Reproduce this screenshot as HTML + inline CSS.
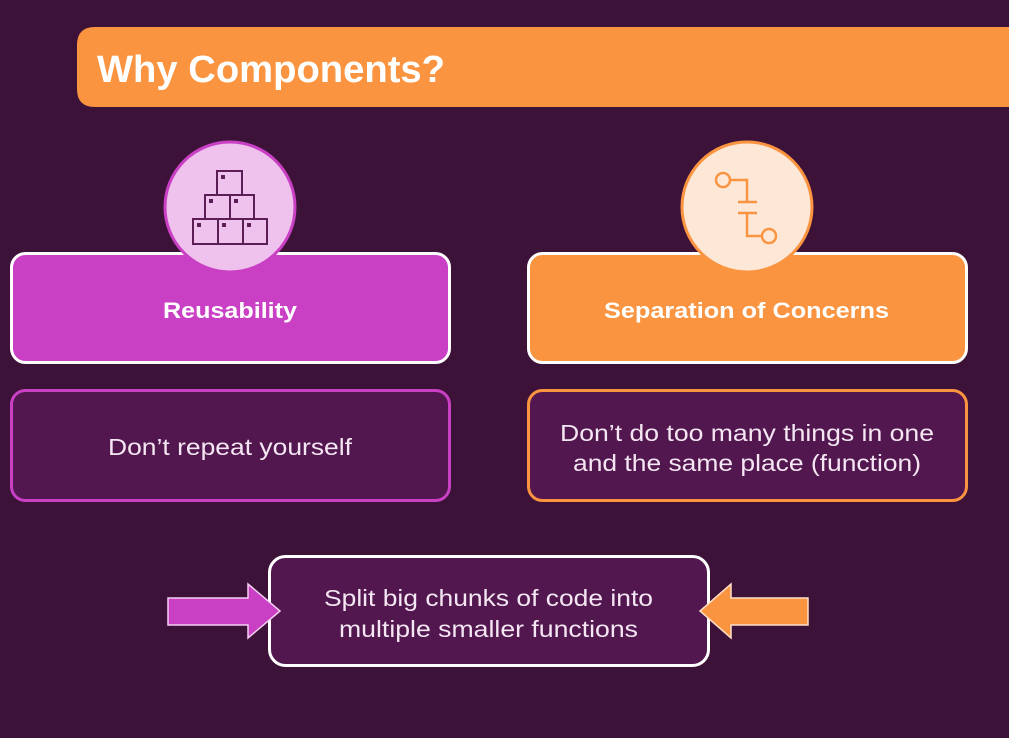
<!DOCTYPE html>
<html><head><meta charset="utf-8"><style>
html,body{margin:0;padding:0;background:#3d1238;}
svg{display:block;}
text{font-family:"Liberation Sans",sans-serif;}
</style></head><body>
<svg width="1009" height="738" viewBox="0 0 1009 738" xmlns="http://www.w3.org/2000/svg">
<rect width="1009" height="738" fill="#3d1238"/>
<path d="M95 27 H1009 V107 H95 Q77 107 77 89 V45 Q77 27 95 27 Z" fill="#fb9440"/>
<text x="97" y="82" font-size="38" font-weight="bold" fill="#fff" textLength="348" lengthAdjust="spacingAndGlyphs">Why Components?</text>

<rect x="11.5" y="253.5" width="438" height="109" rx="14" fill="#c940c4" stroke="#fff" stroke-width="3"/>
<text x="163" y="318" font-size="22" font-weight="bold" fill="#fff" textLength="134" lengthAdjust="spacingAndGlyphs">Reusability</text>
<rect x="528.5" y="253.5" width="438" height="109" rx="14" fill="#fb9440" stroke="#fff" stroke-width="3"/>
<text x="604" y="318" font-size="22" font-weight="bold" fill="#fff" textLength="285" lengthAdjust="spacingAndGlyphs">Separation of Concerns</text>

<circle cx="230" cy="207" r="65" fill="#eec2ec" stroke="#c940c4" stroke-width="3"/>
<g fill="none" stroke="#5a1d55" stroke-width="2">
<rect x="217" y="171" width="25" height="24"/>
<rect x="205" y="195" width="25" height="24"/><rect x="230" y="195" width="24" height="24"/>
<rect x="193" y="219" width="25" height="25"/><rect x="218" y="219" width="25" height="25"/><rect x="243" y="219" width="24" height="25"/>
</g>
<g fill="#5a1d55"><rect x="221" y="175" width="4" height="4"/><rect x="209" y="199" width="4" height="4"/><rect x="234" y="199" width="4" height="4"/><rect x="197" y="223" width="4" height="4"/><rect x="222" y="223" width="4" height="4"/><rect x="247" y="223" width="4" height="4"/></g>

<circle cx="747" cy="207" r="65" fill="#fde8d8" stroke="#fb9440" stroke-width="3"/>
<g fill="none" stroke="#fb9440" stroke-width="2.5">
<circle cx="723" cy="180" r="7"/><path d="M730 180 H747 V202"/><path d="M738 202 H757 M738 213 H757"/><path d="M747 213 V236 H762"/><circle cx="769" cy="236" r="7"/>
</g>

<rect x="11.5" y="390.5" width="438" height="110" rx="14" fill="#52174f" stroke="#c940c4" stroke-width="3"/>
<text x="108" y="455" font-size="23" fill="#f4e6f2" textLength="244" lengthAdjust="spacingAndGlyphs">Don’t repeat yourself</text>
<rect x="528.5" y="390.5" width="438" height="110" rx="14" fill="#52174f" stroke="#fb9440" stroke-width="3"/>
<text x="560" y="441" font-size="23" fill="#f4e6f2" textLength="374" lengthAdjust="spacingAndGlyphs">Don’t do too many things in one</text>
<text x="573" y="471" font-size="23" fill="#f4e6f2" textLength="348" lengthAdjust="spacingAndGlyphs">and the same place (function)</text>

<rect x="269.5" y="556.5" width="439" height="109" rx="16" fill="#52174f" stroke="#fff" stroke-width="3"/>
<text x="324" y="606" font-size="23" fill="#f4e6f2" textLength="329" lengthAdjust="spacingAndGlyphs">Split big chunks of code into</text>
<text x="339" y="637" font-size="23" fill="#f4e6f2" textLength="299" lengthAdjust="spacingAndGlyphs">multiple smaller functions</text>

<path d="M168 598 H248 V584 L280 611 L248 638 V625 H168 Z" fill="#c940c4" stroke="#f4d0f0" stroke-width="1.5"/>
<path d="M808 598 H731 V584 L700 611 L731 638 V625 H808 Z" fill="#fb9440" stroke="#fde0c8" stroke-width="1.5"/>
</svg>
</body></html>
